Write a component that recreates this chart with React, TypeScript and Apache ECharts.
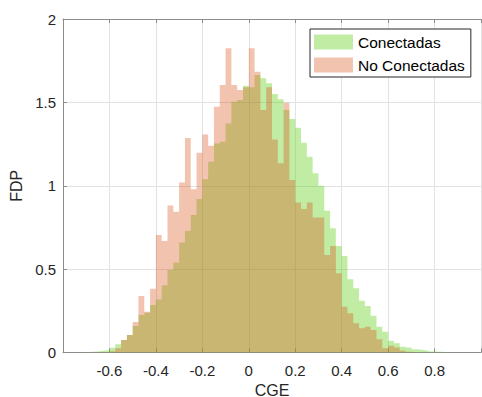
import React, { useEffect, useRef } from "react";
import * as echarts from "echarts";

// Histogram bins (PDF normalisation)
const binStart = -0.7;
const binWidth = 0.025;

const conectadas = [
  0.004, 0.006, 0.010, 0.014, 0.028, 0.050, 0.075, 0.105, 0.159, 0.225,
  0.239, 0.285, 0.318, 0.403, 0.495, 0.539, 0.659, 0.729, 0.825, 0.920,
  1.039, 1.144, 1.254, 1.264, 1.374, 1.504, 1.514, 1.600, 1.590, 1.664,
  1.645, 1.614, 1.550, 1.518, 1.454, 1.400, 1.348, 1.258, 1.174, 1.075,
  1.000, 0.850, 0.745, 0.639, 0.579, 0.439, 0.385, 0.311, 0.279, 0.220,
  0.155, 0.125, 0.070, 0.055, 0.035, 0.030, 0.019, 0.015, 0.011, 0.006,
  0.004, 0.003, 0.002, 0.001,
];

const noConectadas = [
  0, 0, 0, 0, 0.008, 0.025, 0.075, 0.105, 0.183, 0.339,
  0.245, 0.383, 0.705, 0.669, 0.881, 0.844, 1.020, 1.287, 0.979, 1.198,
  1.308, 1.240, 1.474, 1.604, 1.824, 1.604, 1.574, 1.590, 1.824, 1.684,
  1.454, 1.590, 1.278, 1.135, 1.498, 1.034, 0.900, 0.860, 0.900, 0.810,
  0.810, 0.585, 0.639, 0.475, 0.275, 0.235, 0.175, 0.145, 0.155, 0.135,
  0.080, 0.025, 0.040, 0.030, 0.012, 0.004, 0, 0, 0, 0,
  0, 0, 0, 0,
];

const xTickLabels = ["-0.6", "-0.4", "-0.2", "0", "0.2", "0.4", "0.6", "0.8"];
const yTickLabels = ["0", "0.5", "1", "1.5", "2"];
const seriesNames = ["Conectadas", "No Conectadas"];

const GREEN = "rgba(100,207,25,0.4)";
const RED = "rgba(217,83,25,0.35)";
const FONT = "'Liberation Sans', Arial, Helvetica, sans-serif";
const AXIS = "#8c8c8c";
const TEXT = "#262626";
const GRID = "#e2e2e2";

function stairs(values: number[]): [number, number][] {
  const pts: [number, number][] = [[binStart, 0]];
  values.forEach((v, i) => {
    pts.push([+(binStart + (i + 1) * binWidth).toFixed(4), v]);
  });
  pts.push([+(binStart + values.length * binWidth).toFixed(4), 0]);
  return pts;
}

const fmt = (v: number) => String(Math.round(v * 10) / 10);

export default function App() {
  const ref = useRef<HTMLDivElement>(null);
  useEffect(() => {
    const chart = echarts.init(ref.current!, null, { renderer: "svg" });
    const option: any = {
      animation: false,
      backgroundColor: "#ffffff",
      textStyle: { fontFamily: FONT },
      grid: {
        left: 63,
        right: 1,
        top: 19,
        bottom: 44.5,
        containLabel: false,
        outerBoundsMode: "none",
      },
      legend: {
        orient: "vertical",
        left: 310,
        top: 29,
        itemWidth: 39,
        itemHeight: 15,
        itemGap: 7,
        padding: [5, 6, 4, 4],
        borderColor: TEXT,
        borderWidth: 1,
        backgroundColor: "#ffffff",
        icon: "rect",
        selectedMode: false,
        itemStyle: { borderWidth: 0 },
        textStyle: { fontSize: 15.5, color: "#000", fontFamily: FONT },
        data: [
          { name: seriesNames[0], itemStyle: { color: GREEN, borderWidth: 0 } },
          { name: seriesNames[1], itemStyle: { color: RED, borderWidth: 0 } },
        ],
      },
      xAxis: [
        {
          type: "value",
          position: "bottom",
          min: -0.8,
          max: 1.0,
          interval: 0.2,
          name: "CGE",
          nameLocation: "middle",
          nameGap: 29,
          nameTextStyle: { fontSize: 16, lineHeight: 12, color: TEXT, fontFamily: FONT },
          axisLine: { show: true, onZero: false, lineStyle: { color: AXIS, width: 1 } },
          axisTick: { show: true, inside: true, length: 4, lineStyle: { color: AXIS } },
          axisLabel: {
            margin: 10,
            fontSize: 15,
            color: TEXT,
            fontFamily: FONT,
            formatter: (v: number) => (xTickLabels.includes(fmt(v)) ? fmt(v) : ""),
          },
          splitLine: { show: true, lineStyle: { color: GRID, width: 1 } },
        },
        {
          type: "value",
          position: "top",
          min: -0.8,
          max: 1.0,
          interval: 0.2,
          axisLine: { show: true, onZero: false, lineStyle: { color: AXIS, width: 1 } },
          axisTick: { show: true, inside: true, length: 4, lineStyle: { color: AXIS } },
          axisLabel: { show: false },
          splitLine: { show: false },
        },
      ],
      yAxis: {
        type: "value",
        min: 0,
        max: 2,
        interval: 0.5,
        name: "FDP",
        nameLocation: "middle",
        nameGap: 35,
        nameTextStyle: { fontSize: 16, color: TEXT, fontFamily: FONT },
        axisLine: { show: true, onZero: false, lineStyle: { color: AXIS, width: 1 } },
        axisTick: { show: true, inside: true, length: 4, lineStyle: { color: AXIS } },
        axisLabel: {
          margin: 7,
          fontSize: 15,
          color: TEXT,
          fontFamily: FONT,
          formatter: (v: number) => (yTickLabels.includes(fmt(v)) ? fmt(v) : ""),
        },
        splitLine: { show: true, lineStyle: { color: GRID, width: 1 } },
      },
      series: [
        {
          name: seriesNames[0],
          type: "line",
          xAxisIndex: 0,
          step: "start",
          symbol: "none",
          silent: true,
          data: stairs(conectadas),
          itemStyle: { color: GREEN },
          lineStyle: { opacity: 0, width: 0 },
          areaStyle: { color: GREEN, opacity: 1 },
          z: 2,
        },
        {
          name: seriesNames[1],
          type: "line",
          xAxisIndex: 0,
          step: "start",
          symbol: "none",
          silent: true,
          data: stairs(noConectadas),
          itemStyle: { color: RED },
          lineStyle: { opacity: 0, width: 0 },
          areaStyle: { color: RED, opacity: 1 },
          z: 3,
        },
      ],
    };
    chart.setOption(option);
    return () => chart.dispose();
  }, []);
  return (
    <div
      ref={ref}
      style={{ position: "fixed", left: 0, top: 0, width: 482, height: 397 }}
    />
  );
}
